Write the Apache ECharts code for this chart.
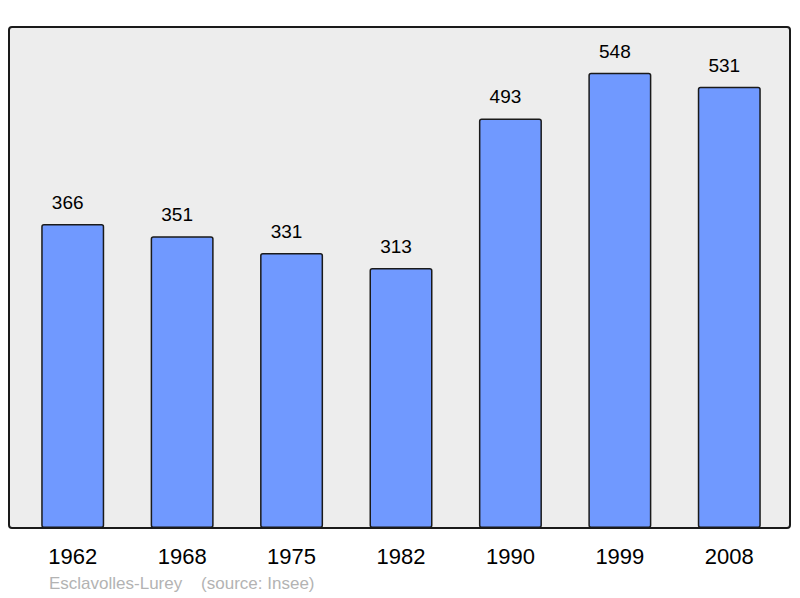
<!DOCTYPE html>
<html><head><meta charset="utf-8">
<script src="https://cdn.jsdelivr.net/npm/echarts@6/dist/echarts.min.js"></script>
<style>html,body{margin:0;padding:0;background:#fff}#c{width:800px;height:598px}</style>
</head><body><div id="c"></div>
<script>
const years = ['1962','1968','1975','1982','1990','1999','2008'];
const population = [366,351,331,313,493,548,531];
const sourceText = 'Esclavolles-Lurey    (source: Insee)';

const chart = echarts.init(document.getElementById('c'), null, {renderer:'svg'});
chart.setOption({
  animation:false,
  backgroundColor:'#fff',
  graphic:[
    {type:'rect', shape:{x:9,y:27,width:781,height:501,r:3}, style:{fill:'#ededed',stroke:'#1a1a1a',lineWidth:2}, z:-10},
    {type:'text', left:49, top:575, style:{text:sourceText, fill:'#b3b3b3', font:'17px "Liberation Sans", Arial, sans-serif'}}
  ],
  grid:{left:18, right:16, top:27, bottom:70},
  xAxis:{type:'category', data:years, axisLine:{show:false}, axisTick:{show:false},
    axisLabel:{color:'#000', fontSize:22, fontFamily:'"Liberation Sans", Arial, sans-serif', margin:17}},
  yAxis:{type:'value', min:0, max:603, show:false, splitLine:{show:false}},
  series:[{type:'bar', data:population, barWidth:63,
    itemStyle:{color:'#7099ff', borderColor:'#1a1a1a', borderWidth:1.5, borderRadius:2},
    label:{show:true, position:'top', distance:12, offset:[-5,0], color:'#000', fontSize:19, fontFamily:'"Liberation Sans", Arial, sans-serif'}
  }]
});
</script></body></html>
